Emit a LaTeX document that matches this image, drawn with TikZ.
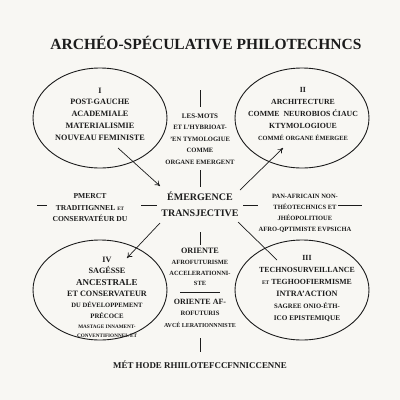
\documentclass[tikz,border=0pt]{standalone}
\usepackage{fontspec}
\setmainfont{Liberation Serif}
\usetikzlibrary{shapes.geometric,arrows.meta}
\definecolor{bg}{RGB}{248,247,243}
\definecolor{ink}{RGB}{28,28,28}
\newcommand\sz[1]{\fontsize{#1}{#1}\selectfont}
\begin{document}
\begin{tikzpicture}[x=1pt,y=-1pt,
  oval/.style={draw=ink,line width=0.9pt,ellipse,minimum width=134pt,minimum height=100pt,inner sep=0pt},
  blk/.style={align=center,text=ink,inner sep=0pt},
  rule/.style={draw=ink,line width=0.8pt},
  arr/.style={draw=ink,line width=0.7pt,-{To[length=5pt,width=6pt]}}]
\fill[bg] (0,0) rectangle (400,400);
\useasboundingbox (0,0) rectangle (400,400);

% title
\node[blk,font=\bfseries\fontsize{15.5}{18}\selectfont] (title) at (206,43) {ARCHÉO-SPÉCULATIVE PHILOTECHNCS};

% ellipses
\node[oval] (e1) at (100,118) {};
\node[oval] (e2) at (302,118) {};
\node[oval] (e4) at (100,290) {};
\node[oval] (e3) at (302,290) {};

% ellipse texts
\node[blk,font=\bfseries\fontsize{8.2}{11.8}\selectfont] (t1) at (100,114)
  {I\\POST-GAUCHE\\ACADEMIALE\\MATERIALISMIE\\NOUVEAU FEMINISTE};
\node[blk,font=\bfseries\fontsize{7.8}{11.8}\selectfont] (t2) at (303,114)
  {II\\ARCHITECTURE\\COMME\ \ NEUROBIOS ĆIAUC\\KTYMOLOGIOUE\\{\sz{6.4}COMMÉ ORGANE ÉMERGEE}};
\node[blk,font=\bfseries\fontsize{7.8}{12}\selectfont] (t3) at (307,289)
  {III\\TECHNOSURVEILLANCE\\{\sz{5.5}ET} TEGHOOFIERMISME\\{\sz{8.2}INTRA’ACTION}\\{\sz{6.7}SAGREE ONIO-ÉTH-}\\{\sz{7.2}ICO EPISTEMIQUE}};
\node[blk,font=\bfseries\fontsize{8.2}{11}\selectfont] (t4) at (107,297)
  {IV\\SAGÉSSE\\[1pt]{\sz{9}ANCESTRALE}\\ET CONSERVATEUR\\{\sz{6.6}DU DÉVELOPPEMENT}\\{\sz{6.8}PRÉCOCE}\\[-1pt]{\sz{5.2}MASTAGE INNAMENT-}\\[-2pt]{\sz{5.2}CONVENTIFIONNEL ET}};

% middle texts
\node[blk,font=\bfseries\fontsize{6.6}{11.5}\selectfont] (mt) at (200,139)
  {{\sz{7}LES-MOTS}\\ET L’HYBRIOAT-\\’EN TYMOLOGIUE\\COMME\\ORGANE EMERGENT};
\node[blk,font=\bfseries\fontsize{10}{16}\selectfont] (c) at (200,204)
  {ÉMERGENCE\\TRANSJECTIVE};
\node[blk,font=\bfseries\fontsize{7.6}{11.5}\selectfont] (lt) at (90,208)
  {PMERCT\\TRADITIGNNEL {\sz{5.2}ET}\\CONSERVATÉUR DU};
\node[blk,font=\bfseries\fontsize{6.5}{11}\selectfont] (rt) at (305,213)
  {PAN-AFRICAIN NON-\\THÉOTECHNICS ET\\JHÉOPOLITIOUE\\AFRO-QPTIMISTE EVPSICHA};
\node[blk,font=\bfseries\fontsize{6.4}{10.7}\selectfont] (bm1) at (200,267)
  {{\sz{8.2}ORIENTE}\\AFROFUTURISME\\ACCELERATIONNI-\\STE};
\node[blk,font=\bfseries\fontsize{6.6}{11.5}\selectfont] (bm2) at (200,313)
  {{\sz{8}ORIENTE AF-}\\ROFUTURIS\\{\sz{6}AVCÉ LERATIONNNISTE}};
\node[blk,font=\bfseries\fontsize{8.9}{10}\selectfont] (foot) at (200,365)
  {MÉT HODE RHIILOTEFCCFNNICCENNE};

% coordinates
\coordinate (v1a) at (200,90);  \coordinate (v1b) at (200,107);
\coordinate (v2a) at (200,170); \coordinate (v2b) at (200,187);
\coordinate (v3a) at (200,232); \coordinate (v3b) at (200,245);
\coordinate (v4a) at (200,338); \coordinate (v4b) at (200,352);
\coordinate (h1a) at (37,205);  \coordinate (h1b) at (47,205);
\coordinate (h2a) at (141,205); \coordinate (h2b) at (157,205);
\coordinate (h3a) at (243,205); \coordinate (h3b) at (258,205);
\coordinate (h4a) at (338,205); \coordinate (h4b) at (362,205);
\coordinate (h5a) at (180,292); \coordinate (h5b) at (220,292);
\coordinate (a1s) at (118,148); \coordinate (a1e) at (160,186);
\coordinate (a2s) at (160,223); \coordinate (a2e) at (127,258);
\coordinate (a3s) at (240,190); \coordinate (a3e) at (283,148);
\coordinate (a4s) at (238,222); \coordinate (a4e) at (277,260);

% rules
\draw[rule] (v1a) -- (v1b);
\draw[rule] (v2a) -- (v2b);
\draw[rule] (v3a) -- (v3b);
\draw[rule] (v4a) -- (v4b);
\draw[rule] (h1a) -- (h1b);
\draw[rule] (h2a) -- (h2b);
\draw[rule] (h3a) -- (h3b);
\draw[rule] (h4a) -- (h4b);
\draw[rule] (h5a) -- (h5b);

% arrows
\draw[arr] (a1s) -- (a1e);
\draw[arr] (a2s) -- (a2e);
\draw[arr] (a3s) -- (a3e);
\draw[draw=ink,line width=0.7pt] (a4s) -- (a4e);
\end{tikzpicture}
\end{document}
